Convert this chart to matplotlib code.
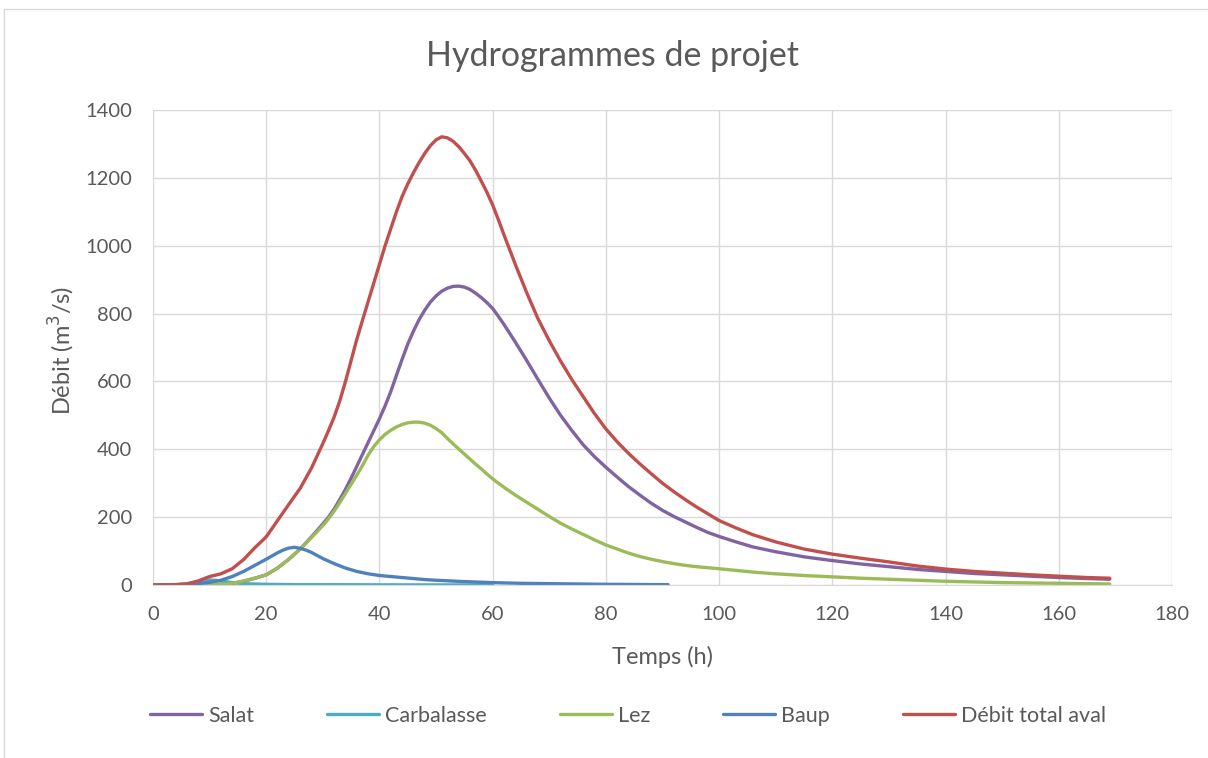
import matplotlib
matplotlib.use('Agg')
import matplotlib.pyplot as plt
from matplotlib.patches import Rectangle

# hours for Salat, Lez and total flow
t_main = ([0, 2, 4, 6, 8, 10, 12, 14, 16, 18, 20, 22, 24, 26, 28, 30]
          + list(range(31, 63))
          + list(range(64, 101, 2))
          + [103, 106, 110, 115, 120, 125, 130, 135, 140, 145, 150, 155, 160, 165, 169])

salat = ([0, 0, 0, 0, 0, 1, 2, 5, 11, 20, 30, 50, 76, 106, 142, 180]
         + [200, 224, 252, 282, 315, 350, 385, 420, 455, 490, 528, 570, 618, 665, 710, 748,
            782, 810, 834, 852, 866, 875, 880, 881, 878, 871, 860, 847, 832, 815, 792, 768]
         + [716, 662, 606, 551, 500, 455, 413, 378, 347, 318, 290, 265, 241, 220, 202, 186,
            170, 155, 143]
         + [127, 112, 98, 83, 72, 62, 54, 46, 40, 34, 30, 26, 22, 19, 17])

lez = ([0, 0, 0, 0, 0, 1, 2, 5, 12, 20, 30, 50, 76, 106, 140, 175]
       + [195, 218, 243, 270, 297, 324, 352, 383, 408, 428, 444, 456, 466, 473, 478, 480,
          480, 477, 471, 461, 449, 432, 416, 401, 386, 371, 356, 342, 327, 313, 300, 288]
       + [265, 244, 223, 202, 182, 165, 149, 133, 118, 106, 94, 84, 76, 69, 63, 58, 54, 51, 48]
       + [43, 38, 33, 28, 24, 20, 17, 14, 11, 9, 7, 6, 5, 4, 3])

total = ([0, 0, 1, 3, 12, 25, 33, 48, 75, 110, 142, 190, 238, 285, 345, 417]
         + [455, 495, 543, 600, 662, 724, 780, 835, 890, 945, 1000, 1050, 1100, 1145, 1182,
            1215, 1245, 1272, 1295, 1312, 1321, 1318, 1308, 1292, 1272, 1250, 1222, 1190,
            1157, 1120, 1077, 1032]
         + [945, 862, 785, 720, 660, 605, 555, 505, 460, 422, 388, 357, 328, 300, 275, 252,
            230, 210, 190]
         + [168, 148, 127, 106, 91, 79, 68, 56, 47, 40, 35, 30, 26, 22, 20])

t_baup = [0, 2, 4, 6, 8, 10, 12, 14, 16, 18, 20, 22, 23, 24, 25, 26, 27, 28, 29, 30,
          32, 34, 36, 38, 40, 42, 44, 46, 48, 50, 55, 60, 65, 70, 80, 91]
baup = [0, 0, 0, 1, 4, 8, 14, 25, 40, 58, 76, 95, 103, 109, 111, 108, 103, 96, 87, 78,
        63, 50, 40, 33, 28, 25, 22, 19, 16, 14, 10, 7, 5, 4, 2, 1]

t_carb = [0, 2, 4, 6, 8, 10, 12, 14, 16, 18, 20, 25, 30, 40, 50, 60]
carbalasse = [0, 0, 1, 4, 10, 15, 12, 7, 4, 3, 2, 1, 1, 0.5, 0.3, 0.2]

x_ticks = list(range(0, 181, 20))
y_ticks = list(range(0, 1401, 200))

plt.rcParams['font.family'] = ['Lato', 'DejaVu Sans']
grey = '#595959'

fig = plt.figure(figsize=(12.08, 7.58), dpi=100)
fig.patches.append(Rectangle((4 / 1208, -0.1), 1.2, 1.1 - 9 / 758, transform=fig.transFigure,
                             fill=False, edgecolor='#d9d9d9', linewidth=1))
ax = fig.add_axes([153 / 1208, 1 - 585 / 758, (1172 - 153) / 1208, (585 - 110) / 758])

style = dict(lw=2.4, solid_capstyle='round', solid_joinstyle='round')
ax.plot(t_main, salat, color='#8064A2', label='Salat', **style)
ax.plot(t_carb, carbalasse, color='#4BACC6', label='Carbalasse', **style)
ax.plot(t_main, lez, color='#9BBB59', label='Lez', **style)
ax.plot(t_baup, baup, color='#4F81BD', label='Baup', **style)
ax.plot(t_main, total, color='#C0504D', label='Débit total aval', **style)

ax.set_xlim(0, 180)
ax.set_ylim(0, 1400)
ax.set_xticks(x_ticks)
ax.set_yticks(y_ticks)
ax.grid(True, color='#d9d9d9', lw=1)
ax.set_axisbelow(True)
for s in ['top', 'right', 'left']:
    ax.spines[s].set_visible(False)
ax.spines['bottom'].set_color('#d9d9d9')
ax.tick_params(length=0, labelsize=14.5, labelcolor=grey)
ax.tick_params(axis='x', pad=15)
ax.tick_params(axis='y', pad=15)

fig.text(662 / 1208, 1 - 657 / 758, 'Temps (h)', fontsize=17, color=grey,
         ha='center', va='center')
fig.text(62 / 1208, 1 - 350 / 758, 'Débit (m$^3$/s)', fontsize=17, color=grey,
         ha='center', va='center', rotation=90)
fig.text(613 / 1208, 1 - 56 / 758, 'Hydrogrammes de projet', fontsize=24.5, color=grey,
         ha='center', va='center')

fig.legend(loc='center', bbox_to_anchor=(628 / 1208, 1 - 716 / 758), ncol=5,
           frameon=False, fontsize=15.5, handlelength=2.4, handletextpad=0.28,
           columnspacing=3.4, labelcolor=grey)

fig.savefig('out.png', dpi=100)
